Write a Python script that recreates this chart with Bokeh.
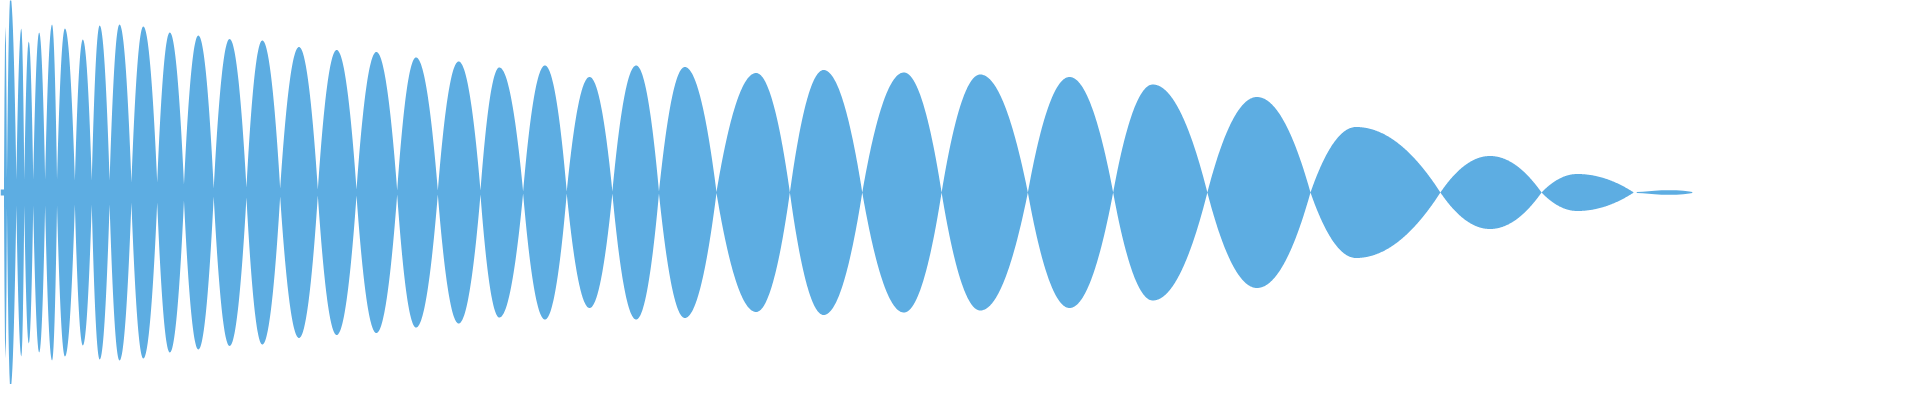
import numpy as np
from bokeh.plotting import figure
from bokeh.models import Range1d
from bokeh.embed import file_html
from bokeh.resources import INLINE

# Zero-crossing (node) positions of the waveform
crossings = [0, 3.5, 6.5, 16, 24, 33, 45, 57, 75, 92, 110, 132, 158, 185, 215,
             248, 282, 320, 359, 400, 441, 484, 527, 571, 617, 664, 722, 796,
             869, 949, 1036, 1122, 1217, 1321, 1452, 1554, 1647]
# Residual amplitude at each node
valley_amp = [3, 3, 15, 13, 13, 13, 13, 13, 12, 12, 12, 10, 10, 8, 4, 5, 4, 3,
              3, 2, 2, 2, 1, 1, 1, 1, 0.5, 0, 0, 0, 0, 0, 0, 0, 0, 0, 0]
# Position and amplitude of the crest of each lobe
peak_x = [1.5, 5, 10, 21, 28.5, 39, 52, 65, 83, 100, 120, 144, 170.7, 199.5,
          231, 264, 301, 339, 379, 419, 462, 503, 549, 594, 641, 690, 762, 830,
          911, 988, 1078, 1162, 1267, 1367, 1502, 1590]
peak_amp = [3, 166, 196, 164, 151, 160, 168, 164, 153, 167, 168, 166, 160, 157,
            153.5, 152, 145.5, 142.5, 140.5, 135, 131, 125, 127, 115.5, 127,
            125.5, 119.5, 122.5, 120, 118, 115.5, 108, 95.5, 65.5, 36.5, 18.5]
# Faint tail at the end of the signal
tail_x = [1650, 1656, 1662, 1668, 1675, 1682, 1690, 1697, 1703, 1706]
tail_amp = [0.6, 0.8, 1.2, 1.8, 2.2, 2.3, 2.2, 1.8, 1.0, 0.6]

COLOR = "#5DADE2"
SHAPE_K = 2.0  # fullness of each lobe's crest (parabolic halves)


def half(t):
    return 1 - (1 - t) ** SHAPE_K


xs, amps = [], []
for i in range(len(peak_x)):
    x0, x1 = crossings[i], crossings[i + 1]
    v0, v1 = valley_amp[i], valley_amp[i + 1]
    xp, a = peak_x[i], peak_amp[i]
    n1 = max(3, int((xp - x0) * 2))
    t = np.linspace(0, 1, n1, endpoint=False)
    xs.extend(x0 + t * (xp - x0))
    amps.extend(v0 + (a - v0) * half(t))
    n2 = max(3, int((x1 - xp) * 2))
    t = np.linspace(0, 1, n2, endpoint=False)
    xs.extend(xp + t * (x1 - xp))
    amps.extend(v1 + (a - v1) * half(1 - t))
xs.append(crossings[-1])
amps.append(valley_amp[-1])
xs = np.array(xs, dtype=float)
amps = np.array(amps, dtype=float)

p = figure(width=1904, height=384, output_backend="svg", toolbar_location=None,
           x_range=Range1d(0, 1920), y_range=Range1d(-192, 192),
           min_border=0, x_axis_location=None, y_axis_location=None)
p.grid.visible = False
p.outline_line_color = None
p.background_fill_color = "white"
p.border_fill_color = "white"

p.varea(x=xs, y1=-amps, y2=amps, fill_color=COLOR)
ta = np.array(tail_amp)
p.varea(x=tail_x, y1=-ta, y2=ta, fill_color=COLOR)

open("out.html", "w").write(file_html(p, INLINE))
